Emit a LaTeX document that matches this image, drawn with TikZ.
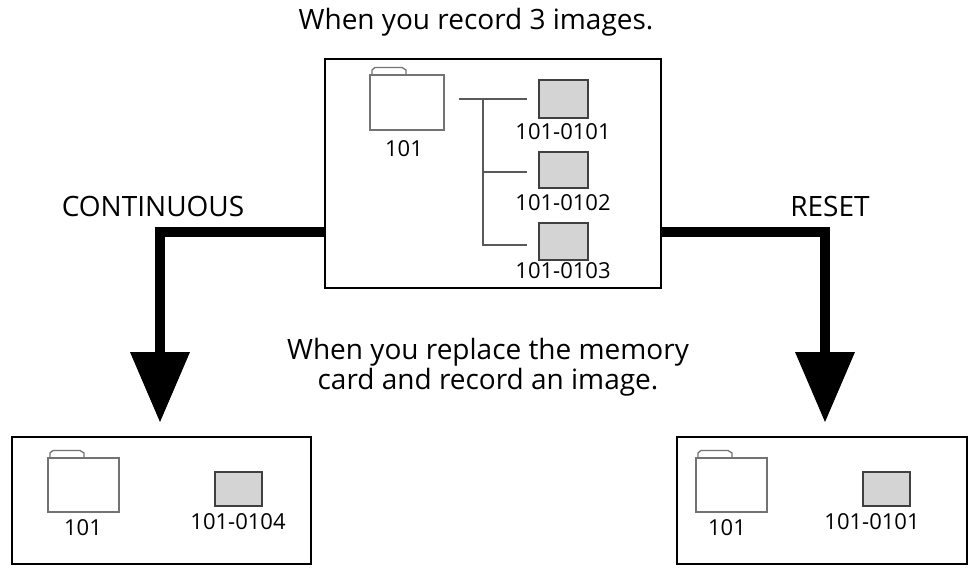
\documentclass[tikz,border=0pt]{standalone}
\usepackage{fontspec}
\setmainfont{Open Sans}
\begin{document}
\begin{tikzpicture}[x=1pt,y=-1pt,
  box/.style={draw,line width=2.5pt},
  fold/.style={draw=black!55,line width=1.3pt,fill=white},
  img/.style={draw=black!75,line width=1.3pt,fill=black!17},
  thick line/.style={line width=10pt},
  lbl/.style={font=\fontsize{22}{24}\selectfont,inner sep=0pt},
  big/.style={font=\fontsize{28}{30}\selectfont,inner sep=0pt,align=center},
  tree/.style={draw=black!65,line width=1.3pt}]
\useasboundingbox (0,0) rectangle (976,568);
% top box
\node[box,minimum width=336,minimum height=229,inner sep=0pt] (top) at (493,173.5) {};
\node[big] (t) at (476,22) {When you record 3 images.};
\newcommand{\folder}[4]{% x1 y1 x2 y2
  \draw[fold] (#1+2,#2) -- (#1+2,#2-5) -- ++(3,-2.5) -- ++(27,0) -- ++(4,2.5) -- ++(0,5);
  \draw[fold] (#1,#2) rectangle (#3,#4);}
\folder{370}{75}{444}{130}
\node[lbl] (f1) at (404,149) {101};
\draw[tree] (459,99) -- (527,99);
\draw[tree] (483,99) -- (483,245) -- (527,245);
\draw[tree] (483,172) -- (527,172);
\node[img,minimum width=49,minimum height=38,inner sep=0pt] (i1) at (563.5,99) {};
\node[img,minimum width=49,minimum height=36,inner sep=0pt] (i2) at (563.5,170) {};
\node[img,minimum width=49,minimum height=37,inner sep=0pt] (i3) at (563.5,241.5) {};
\node[lbl] at (563,132) {101-0101};
\node[lbl] at (563,203) {101-0102};
\node[lbl] at (563,271) {101-0103};
% labels
\node[big] at (153,206) {CONTINUOUS};
\node[big] at (830,206) {RESET};
\node[big] at (488,367) {When you replace the memory\\card and record an image.};
% bottom boxes
\node[box,minimum width=299,minimum height=127,inner sep=0pt] (bl) at (161.5,500.5) {};
\node[box,minimum width=290,minimum height=127,inner sep=0pt] (br) at (822,500.5) {};
\coordinate (lc) at (160,232);
\coordinate (rc) at (825,232);
\draw[thick line] (top.west |- lc) -- (lc) -- (160,356);
\draw[thick line] (top.east |- rc) -- (rc) -- (825,356);
\fill (130,352) -- (190,352) -- (160,422) -- cycle;
\fill (795,352) -- (855,352) -- (825,422) -- cycle;
\folder{48}{458}{119}{512}
\node[lbl] at (83,528) {101};
\node[img,minimum width=47,minimum height=34,inner sep=0pt] at (238.5,489) {};
\node[lbl] at (238,522) {101-0104};
\folder{696}{458}{767}{512}
\node[lbl] at (727,528) {101};
\node[img,minimum width=47,minimum height=34,inner sep=0pt] at (886.5,489) {};
\node[lbl] at (872,522) {101-0101};
\end{tikzpicture}
\end{document}
